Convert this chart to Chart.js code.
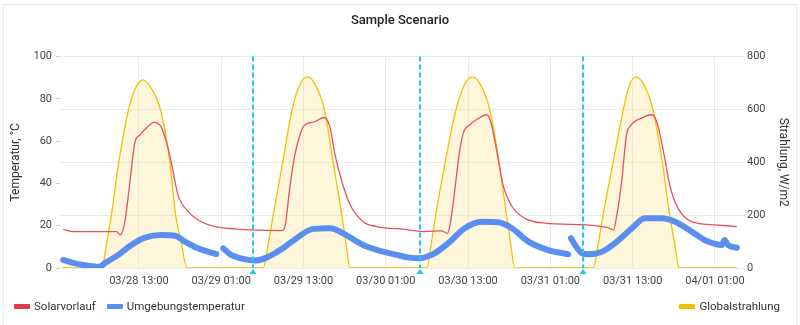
<!DOCTYPE html>
<html>
<head>
<meta charset="utf-8">
<title>Sample Scenario</title>
<script src="https://cdn.jsdelivr.net/npm/chart.js@4.4.1/dist/chart.umd.min.js"></script>
<style>
  html, body { margin: 0; padding: 0; background: #fff; overflow: hidden; }
  #wrap { position: relative; width: 800px; height: 325px; font-family: Roboto, sans-serif; }
  #frame { position: absolute; left: 3px; top: 4px; width: 794px; height: 330px; border: 1px solid #ececec; box-sizing: border-box; }
  canvas { position: absolute; left: 0; top: 0; }
  .legend { position: absolute; top: 299px; height: 14px; display: flex; align-items: center; font-size: 11.5px; color: #333; }
  .legend .item { display: flex; align-items: center; margin-right: 11px; }
  .legend .box { width: 16px; height: 5px; margin-right: 4px; border-radius: 1px; }
</style>
</head>
<body>
<div id="wrap">
  <div id="frame"></div>
  <canvas id="scenarioChart" width="800" height="325"></canvas>
  <div class="legend" id="legendLeft" style="left:14px"></div>
  <div class="legend" id="legendRight" style="right:20px"></div>
</div>

<script>
/* ======================
   DATA  (x = hours since 03/28 01:00)
====================== */

const chartTitle = "Sample Scenario";

const tickHours = [12, 24, 36, 48, 60, 72, 84, 96];
const tickLabels = [
  "03/28 13:00", "03/29 01:00", "03/29 13:00", "03/30 01:00",
  "03/30 13:00", "03/31 01:00", "03/31 13:00", "04/01 01:00"
];

// dashed markers
const markerHours = [28.6, 53.0, 76.7];

// Solarvorlauf, °C
const solarvorlauf = [
  [0.96, 18.3], [2.5, 17.2], [8.75, 17.2], [9.3, 15.6], [9.96, 21.9], [10.7, 40.9],
  [11.4, 59.1], [12.15, 63], [13.1, 66.2], [14.2, 68.9], [15.2, 67], [16.0, 59.9],
  [16.8, 48.8], [17.7, 34.6], [19.2, 26.7], [21.1, 21.9], [23.1, 19.6], [26, 18.5],
  [28.2, 18.0], [32.8, 17.7], [33.3, 19.6], [34.0, 37.8], [34.75, 53.6], [35.5, 63],
  [36, 67], [37.7, 69.3], [39.0, 71.2], [39.9, 66.2], [40.6, 53.6], [41.6, 40.9],
  [42.8, 29.9], [44.7, 21.9], [46.7, 19.6], [50.8, 18.3], [53.7, 17.2], [56.1, 17.6],
  [57.0, 16.4], [57.6, 25.1], [58.1, 37.8], [58.7, 53.6], [59.3, 63.8], [60.3, 67.8],
  [61.2, 70.1], [62.7, 72.5], [63.3, 69.3], [64.2, 55.1], [65.1, 39.3], [66.4, 29.1],
  [68.3, 23.5], [71.2, 21.2], [77.1, 20.4], [78.5, 20.0], [80.4, 19.1], [81.2, 18.0],
  [81.7, 25.1], [82.4, 40.9], [83.1, 63], [83.6, 67], [85.3, 70.9], [86.8, 72.5],
  [87.5, 69.3], [88.5, 55.1], [89.4, 39.3], [90.6, 28.3], [92.6, 21.9], [96, 20.4],
  [99.2, 19.6]
];

// Umgebungstemperatur, °C (null = gap in recording)
const umgebungstemperatur = [
  [0.96, 3.8], [2.7, 2.2], [4.6, 1.1], [6.3, 0.6], [7.0, 2.2], [9.0, 6.2],
  [10.9, 10.9], [12.9, 14.4], [15.3, 15.6], [17.3, 15.3], [18.7, 12.5], [20.6, 9.3],
  [23.3, 6.6], [23.8, null], [24.3, 9.3], [25.3, 6.5], [27.2, 4.3], [28.9, 3.5],
  [30.6, 4.9], [32.6, 8.5], [35, 14.1], [37.4, 18.5], [39.9, 18.8], [41.8, 16.4],
  [44.7, 10.9], [47.6, 7.7], [49.6, 6.2], [51.5, 4.9], [52.7, 4.6], [54.7, 6.2],
  [57.1, 11.7], [59.5, 18.8], [62, 21.9], [64.4, 21.6], [66.4, 18.8], [68.8, 12.5],
  [71.7, 8.5], [74.6, 6.5], [74.8, null], [75.0, 14.1], [75.6, 10.9], [76.6, 7.0],
  [77.6, 6.5], [79.5, 7.7], [81.4, 11.7], [83.9, 18.8], [85.8, 23.5], [88.2, 23.5],
  [90.2, 21.9], [92.6, 17.2], [95.0, 12.5], [97, 10.9], [97.4, 13.3], [97.9, 10.9],
  [99.2, 9.6]
];

// Globalstrahlung, W/m2
const globalstrahlung = [
  [0.8, 0], [6.6, 0], [7.3, 95], [8.0, 202], [9.1, 405], [10.45, 595], [11.5, 680],
  [12.6, 712], [13.8, 680], [15.2, 595], [16.5, 405], [17.35, 202], [18.2, 95], [19.0, 0],
  [30.1, 0], [30.9, 95], [31.6, 202], [33.0, 405], [34.3, 595], [35.4, 690],
  [36.6, 723], [37.8, 690], [39.1, 595], [40.3, 405], [41.6, 202], [42.2, 95], [42.8, 0],
  [54.0, 0], [54.65, 95], [55.3, 202], [56.7, 405], [58.2, 595], [59.4, 690],
  [60.6, 723], [61.9, 690], [63.2, 595], [64.5, 405], [65.6, 202], [66.2, 95], [66.8, 0],
  [78.3, 0], [79.0, 95], [79.7, 202], [81.2, 405], [82.6, 595], [83.5, 690],
  [84.5, 723], [85.7, 690], [87.0, 595], [88.3, 405], [89.4, 202], [90.1, 95], [90.8, 0],
  [99.2, 0]
];


/* ======================
   MARKER LINES
====================== */

const markerPlugin = {
  id: "markers",
  afterDatasetsDraw(chart) {
    const { ctx, chartArea, scales } = chart;
    ctx.save();
    ctx.strokeStyle = "#22c6f2";
    ctx.fillStyle = "#22c6f2";
    ctx.lineWidth = 2;
    markerHours.forEach(h => {
      const px = Math.round(scales.x.getPixelForValue(h));
      ctx.setLineDash([5, 3]);
      ctx.beginPath();
      ctx.moveTo(px, chartArea.top);
      ctx.lineTo(px, chartArea.bottom);
      ctx.stroke();
      ctx.beginPath();
      ctx.moveTo(px, chartArea.bottom + 1);
      ctx.lineTo(px + 3.5, chartArea.bottom + 6);
      ctx.lineTo(px - 3.5, chartArea.bottom + 6);
      ctx.closePath();
      ctx.fill();
    });
    ctx.restore();
  }
};


/* ======================
   CHART
====================== */

Chart.defaults.font.family = "Roboto, sans-serif";
Chart.defaults.color = "#444";

const axisTitle = { size: 12 };
const ctx = document.getElementById("scenarioChart").getContext("2d");

const chart = new Chart(ctx, {
  type: "line",
  data: {
    datasets: [
      {
        label: "Solarvorlauf",
        data: solarvorlauf,
        yAxisID: "y",
        borderColor: "#e8505b",
        backgroundColor: "#e03c48",
        borderWidth: 1.3,
        pointRadius: 0,
        cubicInterpolationMode: "monotone",
        order: 2
      },
      {
        label: "Umgebungstemperatur",
        data: umgebungstemperatur,
        yAxisID: "y",
        borderColor: "#5a8ff0",
        backgroundColor: "#5a8ff0",
        borderWidth: 6,
        borderCapStyle: "round",
        pointRadius: 0,
        cubicInterpolationMode: "monotone",
        spanGaps: false,
        order: 1
      },
      {
        label: "Globalstrahlung",
        data: globalstrahlung,
        yAxisID: "y1",
        borderColor: "#f2c200",
        backgroundColor: "rgba(248,228,150,0.35)",
        borderWidth: 1.3,
        pointRadius: 0,
        fill: "origin",
        cubicInterpolationMode: "monotone",
        order: 3
      }
    ]
  },
  options: {
    responsive: false,
    animation: false,
    layout: { padding: { top: 0, bottom: 35, left: 0, right: 0 } },
    plugins: {
      legend: { display: false },
      tooltip: { enabled: false },
      title: {
        display: true,
        text: chartTitle,
        color: "#222",
        font: { size: 13, weight: "500" },
        padding: { top: 13, bottom: 28 }
      }
    },
    scales: {
      x: {
        type: "linear",
        min: 0.5,
        max: 99.8,
        afterBuildTicks: s => { s.ticks = tickHours.map(v => ({ value: v })); },
        afterFit: s => { s.height = 22; },
        ticks: {
          callback: v => tickLabels[tickHours.indexOf(v)],
          font: { size: 11 },
          padding: 7,
          maxRotation: 0,
          autoSkip: false
        },
        grid: { color: "rgba(0,0,0,0.08)", drawTicks: false },
        border: { display: false }
      },
      y: {
        position: "left",
        min: 0,
        max: 100,
        afterFit: s => { s.width = 60; },
        ticks: { stepSize: 20, padding: 4, font: { size: 11 } },
        grid: { drawOnChartArea: false, tickLength: 4, color: "rgba(0,0,0,0.2)" },
        border: { display: false },
        title: {
          display: true,
          text: "Temperatur, °C",
          color: "#333",
          font: axisTitle,
          padding: { top: 9, bottom: 0 }
        }
      },
      y1: {
        position: "right",
        min: 0,
        max: 800,
        afterFit: s => { s.width = 59; },
        ticks: { stepSize: 200, padding: 2, font: { size: 11 } },
        grid: { color: "rgba(0,0,0,0.08)", tickLength: 4 },
        border: { display: false },
        title: {
          display: true,
          text: "Strahlung, W/m2",
          color: "#333",
          font: axisTitle,
          padding: { top: 10, bottom: 0 }
        }
      }
    }
  },
  plugins: [markerPlugin]
});


/* ======================
   LEGEND (two groups)
====================== */

chart.data.datasets.forEach((ds, i) => {
  const item = document.createElement("div");
  item.className = "item";
  const box = document.createElement("span");
  box.className = "box";
  box.style.background = i === 2 ? ds.borderColor : ds.backgroundColor;
  item.appendChild(box);
  item.appendChild(document.createTextNode(ds.label));
  if (i === 2) item.style.marginRight = "0";
  document.getElementById(i === 2 ? "legendRight" : "legendLeft").appendChild(item);
});
</script>
</body>
</html>
